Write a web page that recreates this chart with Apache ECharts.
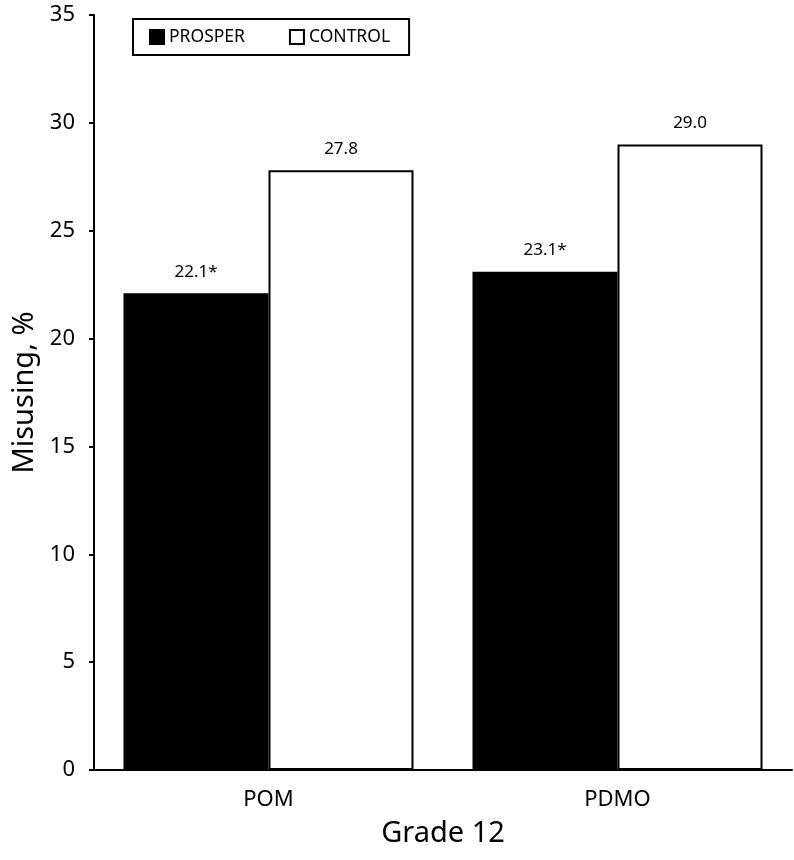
<!DOCTYPE html>
<html>
<head>
<meta charset="utf-8">
<script src="https://cdn.jsdelivr.net/npm/echarts@6/dist/echarts.min.js"></script>
<style>html,body{margin:0;padding:0;background:#fff}#c{width:794px;height:860px}</style>
</head>
<body>
<div id="c"></div>
<script>
var categories = ['POM', 'PDMO'];
var prosperValues = [22.1, 23.1];
var controlValues = [27.8, 29.0];
var prosperSignificant = [true, true];
var seriesNames = ['PROSPER', 'CONTROL'];
var yTicks = {min: 0, max: 35, interval: 5};
var xTitle = 'Grade 12';
var yTitle = 'Misusing, %';

var FONT = 'Noto Sans';
var chart = echarts.init(document.getElementById('c'), null, {renderer: 'canvas'});
chart.setOption({
  backgroundColor: '#fff',
  animation: false,
  textStyle: {fontFamily: FONT, color: '#000'},
  grid: {left: 94, right: 2, top: 15, bottom: 90},
  legend: {
    left: 133, top: 19,
    padding: [9, 19, 9, 16],
    borderColor: '#000', borderWidth: 2,
    itemGap: 44, itemWidth: 14, itemHeight: 14,
    icon: 'rect',
    textStyle: {fontFamily: FONT, fontSize: 17.5, color: '#000'},
    data: seriesNames
  },
  xAxis: {
    type: 'category',
    data: categories,
    name: xTitle, nameLocation: 'middle', nameGap: 49,
    nameTextStyle: {fontSize: 29, color: '#000', fontFamily: FONT},
    axisLine: {lineStyle: {color: '#000', width: 2}},
    axisTick: {length: 7, lineStyle: {color: '#000', width: 2}},
    axisLabel: {fontSize: 22, color: '#000', margin: 19, fontFamily: FONT}
  },
  yAxis: {
    type: 'value',
    min: yTicks.min, max: yTicks.max, interval: yTicks.interval,
    name: yTitle, nameLocation: 'middle', nameGap: 54,
    nameTextStyle: {fontSize: 29, color: '#000', fontFamily: FONT},
    axisLine: {show: true, lineStyle: {color: '#000', width: 2}},
    axisTick: {show: true, length: 5, lineStyle: {color: '#000', width: 2}},
    axisLabel: {fontSize: 22, color: '#000', margin: 19, fontFamily: FONT},
    splitLine: {show: false}
  },
  series: [
    {
      name: seriesNames[0], type: 'bar', barWidth: 145, barGap: '0%',
      data: prosperValues,
      itemStyle: {color: '#000', borderColor: '#000', borderWidth: 2},
      label: {
        show: true, position: 'top', distance: 13, fontSize: 17, color: '#000', fontFamily: FONT,
        formatter: function (p) { return p.value.toFixed(1) + (prosperSignificant[p.dataIndex] ? '*' : ''); }
      }
    },
    {
      name: seriesNames[1], type: 'bar', barWidth: 145, barGap: '0%',
      data: controlValues,
      itemStyle: {color: '#fff', borderColor: '#000', borderWidth: 2},
      label: {
        show: true, position: 'top', distance: 13, fontSize: 17, color: '#000', fontFamily: FONT,
        formatter: function (p) { return p.value.toFixed(1); }
      }
    }
  ]
});
</script>
</body>
</html>
